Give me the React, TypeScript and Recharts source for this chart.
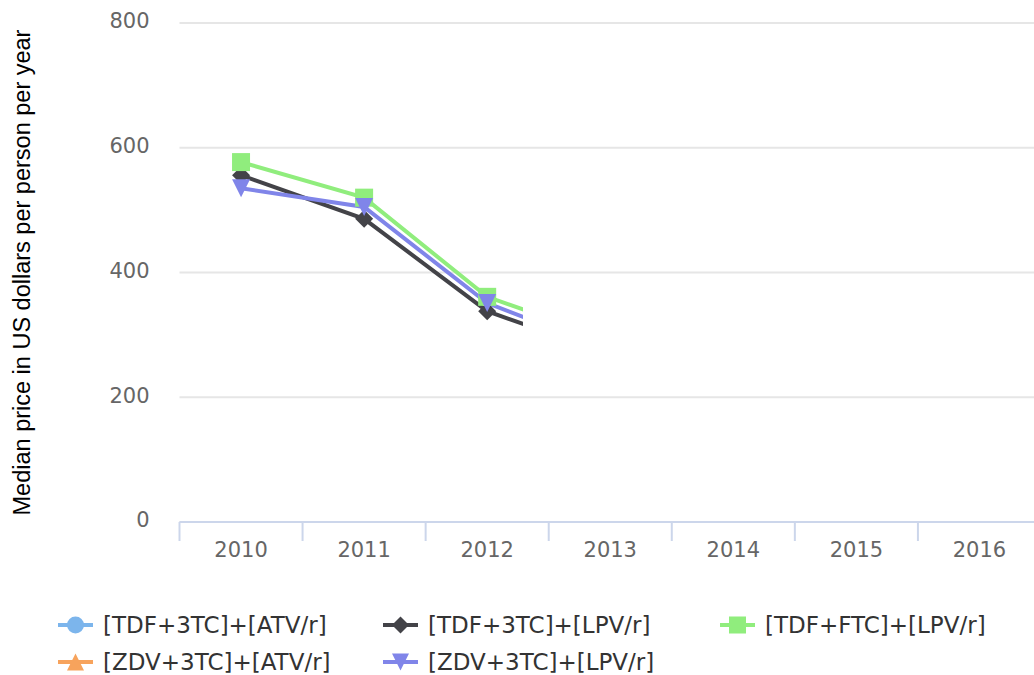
import React from 'react';
import { LineChart, Line, XAxis, YAxis, CartesianGrid, Legend } from 'recharts';

const years = [2010, 2011, 2012, 2013, 2014, 2015, 2016];
const yTicks = [0, 200, 400, 600, 800];
// category boundaries (tick marks sit between the years)
const boundaries = [2009.5, 2010.5, 2011.5, 2012.5, 2013.5, 2014.5, 2015.5, 2016.5];

const tdf3tcAtv: (number | null)[] = [null, null, null, null, null, null, null];
const tdf3tcLpv: (number | null)[] = [556, 486, 338, 268, null, null, null];
const tdfFtcLpv: (number | null)[] = [577, 520, 361, 292, null, null, null];
const zdv3tcAtv: (number | null)[] = [null, null, null, null, null, null, null];
const zdv3tcLpv: (number | null)[] = [535, 505, 351, 275, null, null, null];

const series = [
  { key: 'tdf3tcAtv', name: '[TDF+3TC]+[ATV/r]', color: '#7cb5ec', shape: 'circle', values: tdf3tcAtv },
  { key: 'tdf3tcLpv', name: '[TDF+3TC]+[LPV/r]', color: '#434348', shape: 'diamond', values: tdf3tcLpv },
  { key: 'tdfFtcLpv', name: '[TDF+FTC]+[LPV/r]', color: '#90ed7d', shape: 'square', values: tdfFtcLpv },
  { key: 'zdv3tcAtv', name: '[ZDV+3TC]+[ATV/r]', color: '#f7a35c', shape: 'triangle', values: zdv3tcAtv },
  { key: 'zdv3tcLpv', name: '[ZDV+3TC]+[LPV/r]', color: '#8085e9', shape: 'triangle-down', values: zdv3tcLpv },
];

const data = years.map((year, i) => {
  const row: Record<string, number | null> = { year };
  series.forEach(s => { row[s.key] = s.values[i]; });
  return row;
});

const PLOT_LEFT = 179.5;
const REVEAL_X = 523; // the lines are only drawn up to here
const R = 9;

function Marker({ cx, cy, shape, color, r = R }: any) {
  if (cx == null || cy == null) return null;
  switch (shape) {
    case 'circle':
      return <circle cx={cx} cy={cy} r={r} fill={color} />;
    case 'square':
      return <rect x={cx - r} y={cy - r} width={2 * r} height={2 * r} fill={color} />;
    case 'diamond':
      return <path d={`M${cx} ${cy - r}L${cx + r} ${cy}L${cx} ${cy + r}L${cx - r} ${cy}Z`} fill={color} />;
    case 'triangle':
      return <path d={`M${cx} ${cy - r}L${cx + r} ${cy + r}L${cx - r} ${cy + r}Z`} fill={color} />;
    default:
      return <path d={`M${cx - r} ${cy - r}L${cx + r} ${cy - r}L${cx} ${cy + r}Z`} fill={color} />;
  }
}

const XTick = ({ x, y, payload }: any) => {
  const v = payload.value;
  if (!Number.isInteger(v)) {
    return <line x1={x} y1={y} x2={x} y2={y + 19} stroke="#ccd6eb" strokeWidth={2} />;
  }
  return (
    <text x={x} y={y + 28} dy="0.355em" textAnchor="middle" fill="#666666"
      fontSize={21} fontFamily="DejaVu Sans">{v}</text>
  );
};

const YTitle = ({ viewBox }: any) => {
  const cy = viewBox.y + viewBox.height / 2;
  return (
    <text x={30} y={cy} transform={`rotate(-90, 30, ${cy})`} textAnchor="middle"
      fill="#000" fontSize={23.5} fontFamily="Liberation Sans, Arial, sans-serif">
      Median price in US dollars per person per year
    </text>
  );
};

const renderLegend = ({ payload }: any) => (
  <div style={{ display: 'grid', gridTemplateColumns: '325px 337px auto', paddingLeft: 58,
    fontFamily: 'DejaVu Sans', fontSize: 23, color: '#333333' }}>
    {(payload || []).map((entry: any) => {
      const s = series.find(x => x.key === entry.dataKey) || series[0];
      return (
        <div key={s.key} style={{ display: 'flex', alignItems: 'center', height: 37 }}>
          <svg width={35} height={22} style={{ marginRight: 10 }}>
            <line x1={0} y1={11} x2={35} y2={11} stroke={s.color} strokeWidth={4} />
            <Marker cx={17.5} cy={11} shape={s.shape} color={s.color} r={8.5} />
          </svg>
          <span>{s.name}</span>
        </div>
      );
    })}
  </div>
);

export default function App() {
  return (
    <div style={{ position: 'absolute', left: 0, top: 0, width: 1034, height: 675, overflow: 'hidden', background: '#fff' }}>
      <style>{`.recharts-line-curve, .recharts-line-dots, .recharts-line { clip-path: url(#reveal); }`}</style>
      <svg width={0} height={0} style={{ position: 'absolute' }}>
        <defs>
          <clipPath id="reveal">
            <rect x={0} y={0} width={REVEAL_X} height={675} />
          </clipPath>
        </defs>
      </svg>
      <LineChart width={1045} height={675} data={data}
        margin={{ top: 23, right: 4, left: 0, bottom: 113 }}>
        <CartesianGrid vertical={false} stroke="#e6e6e6" strokeWidth={2} />
        <XAxis dataKey="year" type="number" domain={[2009.5, 2016.5]} ticks={boundaries.concat(years)}
          interval={0} tickSize={0} tickMargin={0} tickLine={false} height={40}
          axisLine={{ stroke: '#ccd6eb', strokeWidth: 2 }} tick={<XTick />} />
        <YAxis domain={[0, 800]} ticks={yTicks} width={PLOT_LEFT} axisLine={false} tickLine={false}
          tickSize={0} tickMargin={30} tick={{ fill: '#666666', fontSize: 21, fontFamily: 'DejaVu Sans', dy: -2 }}
          label={<YTitle />} />
        <Legend layout="horizontal" verticalAlign="middle" align="center" content={renderLegend}
          wrapperStyle={{ position: 'absolute', top: 606, left: 0, width: 1034, height: 80 }} />
        {series.map(s => (
          <Line key={s.key} dataKey={s.key} name={s.name} stroke={s.color} strokeWidth={4}
            isAnimationActive={false} connectNulls={false}
            dot={(p: any) => <Marker key={`${s.key}-${p.index}`} cx={p.cx} cy={p.cy} shape={s.shape} color={s.color} />}
            activeDot={false} />
        ))}
      </LineChart>
    </div>
  );
}
